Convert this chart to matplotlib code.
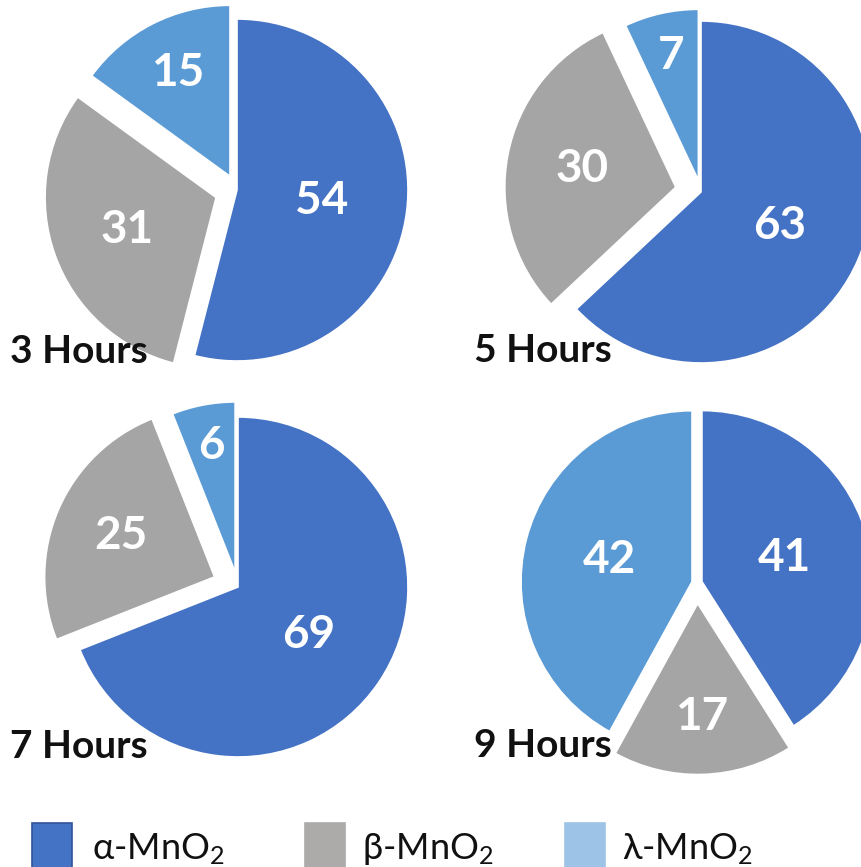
import matplotlib
matplotlib.use("Agg")
import numpy as np
import matplotlib.pyplot as plt
from matplotlib.patches import Rectangle

# ---------------- data ----------------
categories = ["α-MnO$_2$", "β-MnO$_2$", "λ-MnO$_2$"]
panel_titles = ["3 Hours", "5 Hours", "7 Hours", "9 Hours"]
alpha_vals = [54, 63, 69, 41]
beta_vals = [31, 30, 25, 17]
lambda_vals = [15, 7, 6, 42]

# ---------------- style ----------------
plt.rcParams["font.family"] = ["Lato", "DejaVu Sans"]
plt.rcParams["mathtext.fontset"] = "custom"
plt.rcParams["mathtext.rm"] = "Lato"
plt.rcParams["mathtext.it"] = "Lato:italic"
plt.rcParams["mathtext.bf"] = "Lato:bold"

pie_colors = ["#4472C4", "#A5A5A5", "#5B9BD5"]
legend_colors = ["#4472C4", "#ADABAA", "#9DC3E6"]
legend_edges = ["#2F5597", "#ADABAA", "#9DC3E6"]
explodes = [[0.0, 0.13, 0.09], [0.0, 0.15, 0.07], [0.0, 0.15, 0.09], [0.03, 0.12, 0.03]]
# pie centre x, centre y (pixels from top-left), radius in pixels
layout = [(237, 190, 171), (701, 192, 171), (238, 587, 170), (697, 583, 171)]
title_pos = [(10, 363), (474, 362), (10, 758), (474, 757)]
legend_x = [32, 305, 565]
legend_text_x = [92, 362, 622]

W, H = 862, 867
fig = plt.figure(figsize=(W / 100, H / 100), dpi=100)
fig.patch.set_facecolor("white")

lim = 1.3
for i in range(4):
    cx, cy, r = layout[i]
    R = r * lim
    ax = fig.add_axes([(cx - R) / W, (H - cy - R) / H, 2 * R / W, 2 * R / H])
    vals = [alpha_vals[i], beta_vals[i], lambda_vals[i]]
    wedges, _ = ax.pie(vals, colors=pie_colors, explode=explodes[i], startangle=90,
                       counterclock=False, radius=1.0,
                       wedgeprops=dict(edgecolor="white", linewidth=1.2))
    total = float(sum(vals))
    for w, v in zip(wedges, vals):
        frac = v / total
        d = max(0.5, 0.8 - 0.8 * frac)
        th = np.deg2rad((w.theta1 + w.theta2) / 2)
        x0, y0 = w.center
        ax.text(x0 + d * w.r * np.cos(th), y0 + d * w.r * np.sin(th), str(v),
                ha="center", va="center", color="white", fontsize=33,
                fontweight="bold")
    ax.set_xlim(-lim, lim)
    ax.set_ylim(-lim, lim)
    ax.set_aspect("equal")
    ax.axis("off")
    tx, ty = title_pos[i]
    fig.text(tx / W, 1 - ty / H, panel_titles[i], fontsize=28, fontweight="bold",
             color="#111111", ha="left", va="baseline")

# legend (squares run off the bottom edge as in the original)
for name, fc, ec, sx, txx in zip(categories, legend_colors, legend_edges, legend_x, legend_text_x):
    fig.add_artist(Rectangle((sx / W, 1 - 875 / H), 40 / W, 52 / H,
                             transform=fig.transFigure, facecolor=fc, edgecolor=ec,
                             linewidth=1.2))
    fig.text(txx / W, 1 - 859 / H, name, fontsize=26, color="#111111",
             ha="left", va="baseline")

fig.savefig("out.png", dpi=100, facecolor="white")
